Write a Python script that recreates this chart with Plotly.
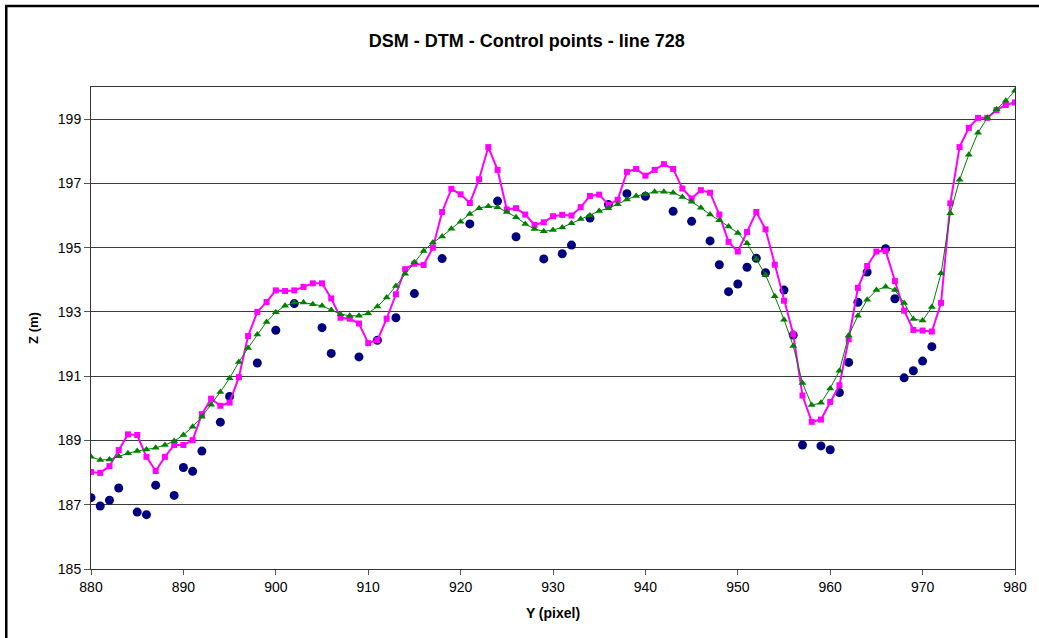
import plotly.graph_objects as go

# Pixel positions along the scan line
y_pixel = list(range(880, 981))

# DSM heights (m)
dsm = [
    188.02, 187.99, 188.20, 188.70, 189.19, 189.17, 188.49, 188.05, 188.49, 188.86,
    188.86, 189.01, 189.82, 190.30, 190.08, 190.18, 190.97, 192.25, 193.00, 193.31,
    193.67, 193.65, 193.67, 193.78, 193.89, 193.89, 193.42, 192.82, 192.79, 192.64,
    192.03, 192.12, 192.79, 193.55, 194.33, 194.50, 194.46, 195.00, 196.11, 196.83,
    196.66, 196.39, 197.13, 198.13, 197.42, 196.19, 196.23, 196.03, 195.71, 195.79,
    195.98, 196.02, 196.00, 196.26, 196.61, 196.65, 196.34, 196.49, 197.36, 197.45,
    197.24, 197.42, 197.60, 197.45, 196.84, 196.53, 196.79, 196.71, 196.03, 195.18,
    194.88, 195.49, 196.11, 195.57, 194.47, 193.35, 192.31, 190.40, 189.58, 189.65,
    190.20, 190.72, 192.15, 193.75, 194.43, 194.88, 194.90, 193.96, 193.04, 192.44,
    192.42, 192.39, 193.28, 196.38, 198.13, 198.73, 199.04, 199.04, 199.28, 199.44,
    199.52,
]

# DTM heights (m)
dtm = [
    188.49, 188.39, 188.41, 188.51, 188.60, 188.67, 188.72, 188.77, 188.86, 188.98,
    189.17, 189.43, 189.74, 190.11, 190.51, 190.94, 191.44, 191.88, 192.30, 192.69,
    192.99, 193.19, 193.29, 193.29, 193.24, 193.19, 193.06, 192.93, 192.88, 192.88,
    192.96, 193.17, 193.45, 193.81, 194.19, 194.55, 194.90, 195.16, 195.35, 195.59,
    195.81, 196.05, 196.23, 196.29, 196.26, 196.11, 195.95, 195.74, 195.58, 195.51,
    195.55, 195.63, 195.76, 195.89, 196.00, 196.14, 196.23, 196.35, 196.50, 196.61,
    196.66, 196.74, 196.74, 196.71, 196.58, 196.43, 196.24, 196.03, 195.85, 195.66,
    195.46, 195.14, 194.65, 194.15, 193.49, 192.76, 191.94, 190.79, 190.10, 190.17,
    190.62, 191.17, 192.27, 192.88, 193.38, 193.68, 193.78, 193.68, 193.28, 192.78,
    192.73, 193.15, 194.20, 196.07, 197.11, 197.89, 198.58, 199.04, 199.31, 199.57,
    199.88,
]

# Control points
cp_y = [
    880, 881, 882, 883, 885, 886, 887, 889, 890, 891, 892, 894, 895, 898, 900,
    902, 905, 906, 909, 911, 913, 915, 918, 921, 924, 926, 929, 931, 932, 934,
    936, 938, 940, 943, 945, 947, 948, 949, 950, 951, 952, 953, 955, 956, 957,
    959, 960, 961, 962, 963, 964, 966, 967, 968, 969, 970, 971,
]
cp_z = [
    187.22, 186.96, 187.14, 187.52, 186.77, 186.69, 187.61, 187.29, 188.16, 188.04,
    188.67, 189.57, 190.37, 191.41, 192.43, 193.26, 192.51, 191.71, 191.60, 192.12,
    192.82, 193.57, 194.66, 195.74, 196.45, 195.34, 194.65, 194.81, 195.08, 195.92,
    196.34, 196.68, 196.60, 196.13, 195.82, 195.21, 194.47, 193.63, 193.87, 194.39,
    194.67, 194.22, 193.68, 192.28, 188.86, 188.83, 188.71, 190.49, 191.43, 193.30,
    194.24, 194.97, 193.41, 190.95, 191.17, 191.47, 191.92,
]

x_ticks = list(range(880, 981, 10))
z_ticks = list(range(185, 200, 2))

fig = go.Figure()

fig.add_trace(go.Scatter(
    x=cp_y, y=cp_z, mode="markers", name="Control points",
    marker=dict(symbol="circle", size=9, color="#000080"),
))
fig.add_trace(go.Scatter(
    x=y_pixel, y=dsm, mode="lines+markers", name="DSM",
    line=dict(color="#FF00FF", width=2),
    marker=dict(symbol="square", size=6, color="#FF00FF"),
))
fig.add_trace(go.Scatter(
    x=y_pixel, y=dtm, mode="lines+markers", name="DTM",
    line=dict(color="#008000", width=1),
    marker=dict(symbol="triangle-up", size=7, color="#008000"),
))

font_family = "Liberation Sans, Arial, sans-serif"

fig.update_layout(
    width=1039, height=638,
    margin=dict(l=91, r=21, t=87, b=69),
    paper_bgcolor="white", plot_bgcolor="white",
    showlegend=False,
    font=dict(family=font_family, color="black", size=14),
    title=dict(
        text="<b>DSM - DTM - Control points - line 728</b>",
        x=0.507, xanchor="center", y=0.936, yanchor="middle",
        font=dict(size=18, family=font_family, color="black"),
    ),
    xaxis=dict(
        range=[880, 980], tickvals=x_ticks, ticks="outside", ticklen=5,
        tickcolor="#555555", showgrid=False, zeroline=False,
        showline=True, linecolor="#333333", linewidth=1, mirror=True,
        tickfont=dict(size=14),
        title=dict(text="<b>Y (pixel)</b>", font=dict(size=14), standoff=14),
    ),
    yaxis=dict(
        range=[185, 200], tickvals=z_ticks, ticks="outside", ticklen=6,
        tickcolor="#555555", showgrid=True, gridcolor="#3a3a3a", gridwidth=1,
        zeroline=False, showline=True, linecolor="#333333", linewidth=1,
        mirror=True, tickfont=dict(size=14),
        title=dict(text="<b>Z (m)</b>", font=dict(size=13), standoff=16),
    ),
    shapes=[dict(
        type="rect", xref="paper", yref="paper",
        x0=-0.0917, x1=1.1, y0=-0.2, y1=1.168,
        line=dict(color="black", width=2.5), fillcolor="rgba(0,0,0,0)",
        layer="below",
    )],
)

fig.write_html("out.html")
